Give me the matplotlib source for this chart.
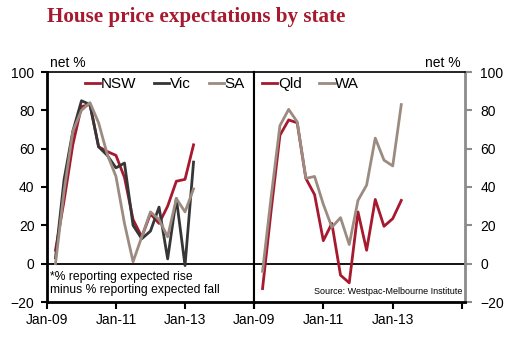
import datetime as dt
import matplotlib
matplotlib.use("Agg")
import matplotlib.pyplot as plt
import matplotlib.dates as mdates
from matplotlib.ticker import FuncFormatter

plt.rcParams["font.family"] = ["Liberation Sans", "DejaVu Sans"]

# Quarterly survey dates, Apr-09 to Apr-13
dates = [dt.date(2009 + (m // 12), (m % 12) + 1, 1) for m in range(3, 52, 3)]

nsw = [7, 33, 62, 82, 83, 61, 58.5, 56.5, 45, 23, 14, 26, 21, 30, 43, 44, 62]
vic = [3, 44, 69, 85, 83, 61, 56.5, 50, 52.5, 20, 13, 17, 29.5, 2.5, 34, -1, 53]
sa = [0, 38, 69, 80, 84, 73.5, 57, 45.5, 21, 1, 14, 27, 23, 14, 34, 27, 39]
qld = [-13, 28, 67, 75, 73.5, 44.5, 36, 12, 21, -6, -10, 27, 7, 33.5, 19.5, 23.5, 33]
wa = [-4, 35, 72, 80.5, 74, 44.5, 45.5, 31, 19, 24, 10, 33, 41, 65.5, 54, 51, 83]

x_ticks = [dt.date(2009, 1, 1), dt.date(2011, 1, 1), dt.date(2013, 1, 1), dt.date(2015, 1, 1)]
y_ticks = [-20, 0, 20, 40, 60, 80, 100]

RED = "#A6192E"
DARK = "#363636"
TAUPE = "#9C8B80"
GREY = "#8C8C8C"

fig = plt.figure(figsize=(5.10, 3.41), dpi=100)
fig.patch.set_facecolor("white")

W, H = 510.0, 341.0
bottom = 1 - 302 / H
height = 230 / H
ax1 = fig.add_axes([47 / W, bottom, 207 / W, height])
ax2 = fig.add_axes([254 / W, bottom, 211 / W, height])

lw = 2.0
ax1.plot(dates, nsw, color=RED, lw=lw, label="NSW", zorder=3)
ax1.plot(dates, vic, color=DARK, lw=lw, label="Vic", zorder=3)
ax1.plot(dates, sa, color=TAUPE, lw=lw, label="SA", zorder=3)
ax2.plot(dates, qld, color=RED, lw=lw, label="Qld", zorder=3)
ax2.plot(dates, wa, color=TAUPE, lw=lw, label="WA", zorder=3)


def date_label(value, pos):
    d = mdates.num2date(value)
    return "" if d.year >= 2015 else d.strftime("%b-%y")


for ax in (ax1, ax2):
    ax.set_ylim(-20, 100)
    ax.set_yticks(y_ticks)
    ax.set_xticks(x_ticks)
    ax.xaxis.set_major_formatter(FuncFormatter(date_label))
    ax.axhline(0, color="black", lw=1.3, zorder=2)
    ax.tick_params(axis="x", direction="out", length=5, width=1.5, labelsize=10, pad=3)
    ax.spines["bottom"].set_linewidth(2.0)
    ax.spines["top"].set_linewidth(1.2)
    ax.spines["top"].set_color("black")

ax1.set_xlim(dt.date(2009, 1, 1), dt.date(2015, 1, 1))
ax2.set_xlim(dt.date(2009, 1, 1), dt.date(2015, 2, 1))

# Left panel: black axis on the left
ax1.spines["left"].set_linewidth(2.0)
ax1.spines["right"].set_linewidth(1.5)
ax1.tick_params(axis="y", direction="out", length=4, width=1.5, labelsize=10, pad=5)

# Right panel: grey axis on the right
ax2.spines["left"].set_linewidth(1.5)
ax2.spines["right"].set_linewidth(2.0)
ax2.spines["right"].set_color(GREY)
ax2.yaxis.tick_right()
ax2.tick_params(axis="y", direction="out", length=5, width=1.5, labelsize=10,
                color=GREY, pad=6, left=False, labelleft=False)

leg_kw = dict(loc="center left", frameon=False, fontsize=11,
              handlelength=1.0, handletextpad=0.05, columnspacing=1.15,
              borderpad=0, borderaxespad=0)
ax1.legend(bbox_to_anchor=(85 / W, 1 - 84 / H), bbox_transform=fig.transFigure,
           ncol=3, **leg_kw)
ax2.legend(bbox_to_anchor=(262 / W, 1 - 84 / H), bbox_transform=fig.transFigure,
           ncol=2, **leg_kw)

ax1.text(50 / W, 1 - 271 / H, "*% reporting expected rise\nminus % reporting expected fall",
         transform=fig.transFigure, fontsize=8.7, va="top", ha="left", linespacing=1.15)
ax2.text(462 / W, 1 - 291 / H, "Source: Westpac-Melbourne Institute",
         transform=fig.transFigure, fontsize=6.5, va="center", ha="right")

fig.text(50 / W, 1 - 63 / H, "net %", fontsize=10, va="center", ha="left")
fig.text(461 / W, 1 - 63 / H, "net %", fontsize=10, va="center", ha="right")

fig.text(47 / W, 1 - 17 / H, "House price expectations by state",
         fontsize=15.2, fontweight="bold", color=RED, va="center", ha="left",
         family=["Liberation Serif", "DejaVu Serif"])

fig.savefig("out.png", dpi=100, facecolor="white")
